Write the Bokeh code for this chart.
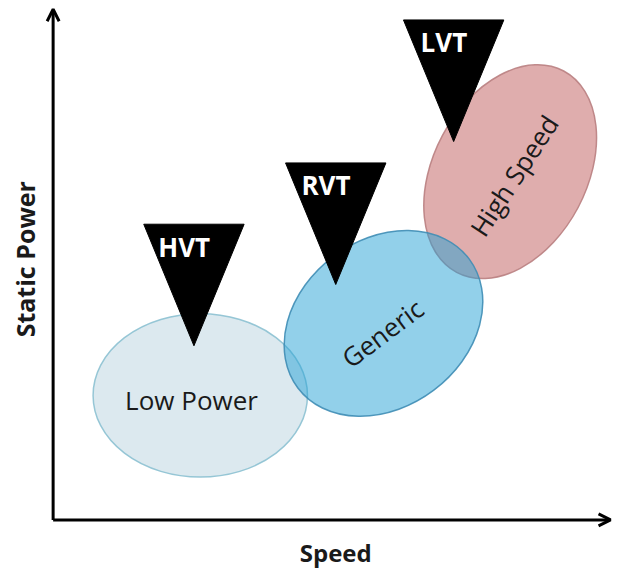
from bokeh.plotting import figure
from bokeh.models import Range1d, Arrow, OpenHead
from bokeh.core.properties import value
from bokeh.embed import file_html
from bokeh.resources import INLINE

# ---- data (speed / static power units, origin at the axes' corner) ----
regions = ["Low Power", "Generic", "High Speed"]
region_speed = [151, 339, 469]
region_power = [128, 202, 358]
region_speed_extent = [220, 220, 234]
region_power_extent = [168, 172, 158]
region_tilt = [0, 37, 62]
region_label_speed = [142, 338, 473]
region_label_power = [123, 192, 354]
region_label_tilt = [0, 37, 57]

vt_labels = ["HVT", "RVT", "LVT"]
vt_speed = [144.5, 290, 411]
vt_power = [179, 242, 389]

axis_labels = ["Speed", "Static Power"]

# ---- styles ----
region_fill = ["#dce9ef", "#dfadad", "#25a1d5"]
region_line = ["#8cc1d1", "#b98081", "#3f8db5"]
region_alpha = [1.0, 1.0, 0.5]
TRI_W = 103
TRI_D = 125

p = figure(width=612, height=569, x_range=Range1d(-54, 574), y_range=Range1d(-51, 534),
           output_backend="svg", toolbar_location=None, min_border=0)
p.axis.visible = False
p.grid.visible = False
p.outline_line_color = None
p.background_fill_color = "white"
p.border_fill_color = "white"

# ellipses: draw order Low Power, High Speed, Generic (translucent on top)
order = [0, 2, 1]
for k, i in enumerate(order):
    p.ellipse(x=[region_speed[i]], y=[region_power[i]],
              width=[region_speed_extent[i]], height=[region_power_extent[i]],
              angle=region_tilt[i], angle_units="deg",
              fill_color=region_fill[k], fill_alpha=region_alpha[k],
              line_color=region_line[k], line_width=1.5, line_alpha=0.9)

# region labels
p.text(x=region_label_speed, y=region_label_power, text=regions,
       angle=region_label_tilt, angle_units="deg",
       text_font=value("Open Sans"), text_font_size="26px", text_color="#1a1a1a",
       text_align="center", text_baseline="middle")

# inverted triangles
xs = [[x - TRI_W / 2, x + TRI_W / 2, x] for x in vt_speed]
ys = [[y + TRI_D, y + TRI_D, y] for y in vt_power]
p.patches(xs=xs, ys=ys, fill_color="black", line_color="black")
p.text(x=[x - 10 for x in vt_speed], y=[y + TRI_D - 23 for y in vt_power], text=vt_labels,
       text_font=value("Open Sans"), text_font_style="bold", text_font_size="26px",
       text_color="white", text_align="center", text_baseline="middle")

# axes with arrows
p.add_layout(Arrow(end=OpenHead(size=12, line_width=3, line_color="black"),
                   x_start=0, y_start=0, x_end=0, y_end=525,
                   line_width=3, line_color="black"))
p.add_layout(Arrow(end=OpenHead(size=12, line_width=3, line_color="black"),
                   x_start=0, y_start=0, x_end=572, y_end=0,
                   line_width=3, line_color="black"))

p.text(x=[290], y=[-34], text=[axis_labels[0]],
       text_font=value("Open Sans"), text_font_style="bold", text_font_size="24px",
       text_color="#1a1a1a", text_align="center", text_baseline="middle")
p.text(x=[-29], y=[268], text=[axis_labels[1]], angle=90, angle_units="deg",
       text_font=value("Open Sans"), text_font_style="bold", text_font_size="25px",
       text_color="#1a1a1a", text_align="center", text_baseline="middle")

open("out.html", "w").write(file_html(p, INLINE))
